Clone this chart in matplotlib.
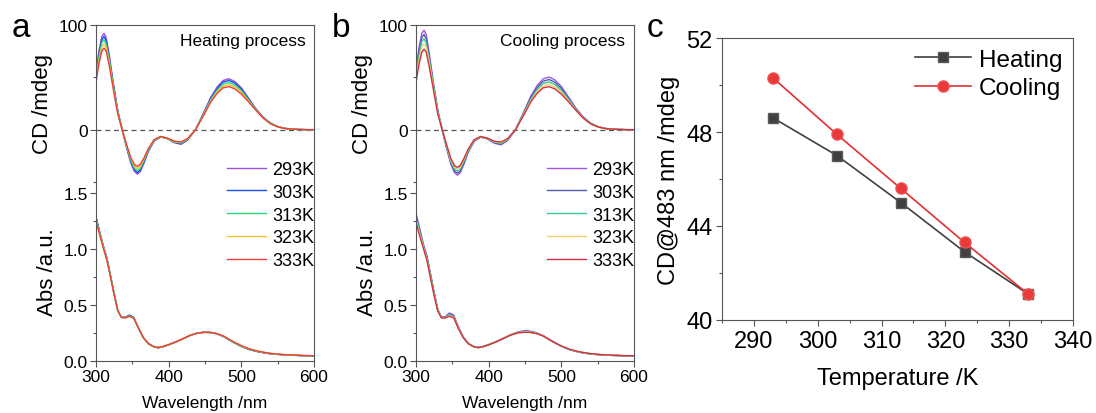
import matplotlib
matplotlib.use('Agg')
import matplotlib.pyplot as plt
from matplotlib.ticker import MultipleLocator

plt.rcParams['font.family'] = ['Liberation Sans', 'DejaVu Sans']

# ---- data ----
temps = ['293K', '303K', '313K', '323K', '333K']

wl_cd = [300, 304, 308, 311, 314, 318, 324, 330, 336, 342, 348, 353, 357, 361, 366, 372,
         380, 389, 398, 408, 417, 426, 437, 448, 458, 467, 475, 483, 491, 500, 510, 520,
         530, 540, 550, 560, 575, 590, 600]

# heating process CD (mdeg)
cd_heat_293 = [55, 75, 89, 92, 88, 72, 44, 18, 0, -17, -32, -40, -42.5, -40, -32, -21,
               -11, -7, -8.5, -12.5, -14, -10, 0, 16, 31, 41, 47, 48.6, 46, 40, 30, 20,
               12, 6.3, 3, 1.2, 0.3, 0, 0]
cd_heat_303 = [52, 72, 86, 89, 85, 70, 42.5, 17.5, 0, -16.3, -31, -38.5, -41, -38.5, -31, -20.3,
               -10.6, -6.9, -8.4, -12.1, -13.4, -9.6, 0, 15.3, 30, 39.6, 45.5, 47.0, 44.5, 38.8, 29.2, 19.6,
               11.8, 6.2, 2.9, 1.2, 0.3, 0, 0]
cd_heat_313 = [50, 69, 83, 86, 82, 67.5, 41, 16.5, 0, -15.5, -29.5, -37, -39, -37, -29.5, -19.5,
               -10.3, -6.8, -8.3, -11.8, -12.8, -9.2, 0, 14.7, 28.8, 38, 43.6, 45.0, 42.6, 37.3, 28.3, 19.2,
               11.6, 6.0, 2.8, 1.1, 0.3, 0, 0]
cd_heat_323 = [47, 66, 79, 82, 78.5, 65, 39.5, 16, 0, -14.8, -28, -35, -37, -35, -28, -18.7,
               -9.9, -6.6, -8.1, -11.4, -12.2, -8.9, 0, 14.1, 27.6, 36.4, 41.7, 42.9, 40.7, 35.6, 27.4, 18.8,
               11.3, 5.9, 2.7, 1.1, 0.3, 0, 0]
cd_heat_333 = [45, 63, 75, 78, 75, 62, 38, 15, 0, -14, -27, -33.5, -35, -33, -27, -18,
               -9.5, -6.5, -8, -11, -11.7, -8.5, 0, 13.5, 26.5, 35, 40, 41.1, 39, 34, 26.5, 18.5,
               11, 5.7, 2.7, 1.1, 0.3, 0, 0]

# cooling process CD (mdeg)
cd_cool_293 = [57, 78, 92, 95, 91, 74, 45, 18.5, 0, -17.5, -33, -41, -43.5, -41, -33, -21.5,
               -11.3, -7.2, -8.8, -13, -14.5, -10.4, 0, 16.5, 32, 42.5, 48.6, 50.3, 47.6, 41.3, 31, 20.5,
               12.3, 6.4, 3.0, 1.2, 0.3, 0, 0]
cd_cool_303 = [54, 74, 88, 91, 87, 71, 43.5, 18, 0, -16.8, -32, -39.5, -41.5, -39.5, -31.5, -20.7,
               -10.9, -7, -8.6, -12.5, -13.8, -9.9, 0, 15.8, 30.5, 40.5, 46.3, 47.9, 45.4, 39.5, 29.8, 20,
               12, 6.2, 2.9, 1.2, 0.3, 0, 0]
cd_cool_313 = [51, 70, 84, 87, 83, 68, 42, 17, 0, -16, -30.5, -37.5, -39.5, -37.5, -30, -19.8,
               -10.4, -6.9, -8.4, -12, -13.1, -9.4, 0, 15, 29, 38.6, 44.1, 45.6, 43.2, 37.6, 28.7, 19.4,
               11.7, 6.0, 2.8, 1.1, 0.3, 0, 0]
cd_cool_323 = [48, 66, 79, 82, 79, 65, 40, 16, 0, -15, -29, -36, -37.5, -35.5, -28.5, -19,
               -10, -6.7, -8.2, -11.5, -12.4, -9, 0, 14.2, 27.7, 36.8, 41.9, 43.3, 41, 35.8, 27.5, 18.9,
               11.3, 5.9, 2.7, 1.1, 0.3, 0, 0]
cd_cool_333 = [45, 62, 74, 77, 74, 61, 38, 15, 0, -14.2, -27.5, -34.5, -36, -34, -27.5, -18.3,
               -9.6, -6.5, -8, -11.1, -11.8, -8.6, 0, 13.5, 26.5, 35, 40, 41.1, 39, 34, 26.5, 18.5,
               11, 5.7, 2.7, 1.1, 0.3, 0, 0]

wl_abs = [300, 305, 310, 315, 320, 325, 330, 335, 340, 346, 352, 358, 365, 372, 380, 386, 393,
          400, 410, 420, 430, 440, 448, 456, 465, 475, 488, 500, 512, 525, 540, 555, 570, 585, 600]

# heating process absorbance
abs_heat_293 = [1.29, 1.16, 1.03, 0.92, 0.76, 0.60, 0.45, 0.39, 0.39, 0.41, 0.39, 0.30, 0.21, 0.155, 0.125, 0.118, 0.128,
                0.145, 0.17, 0.20, 0.23, 0.25, 0.256, 0.255, 0.245, 0.22, 0.17, 0.13, 0.10, 0.08, 0.064, 0.056, 0.051, 0.048, 0.046]
abs_heat_303 = [1.28, 1.15, 1.03, 0.92, 0.76, 0.60, 0.45, 0.39, 0.39, 0.41, 0.39, 0.30, 0.21, 0.155, 0.125, 0.118, 0.128,
                0.145, 0.17, 0.20, 0.23, 0.25, 0.256, 0.255, 0.245, 0.22, 0.17, 0.13, 0.10, 0.08, 0.065, 0.057, 0.052, 0.048, 0.046]
abs_heat_313 = [1.27, 1.15, 1.02, 0.91, 0.76, 0.60, 0.45, 0.39, 0.39, 0.405, 0.385, 0.30, 0.21, 0.155, 0.125, 0.12, 0.13,
                0.145, 0.17, 0.20, 0.23, 0.25, 0.256, 0.255, 0.245, 0.222, 0.172, 0.132, 0.102, 0.082, 0.066, 0.057, 0.052, 0.048, 0.047]
abs_heat_323 = [1.26, 1.14, 1.02, 0.91, 0.75, 0.59, 0.45, 0.39, 0.385, 0.40, 0.385, 0.30, 0.21, 0.155, 0.126, 0.12, 0.13,
                0.146, 0.17, 0.20, 0.23, 0.25, 0.256, 0.256, 0.246, 0.223, 0.174, 0.134, 0.104, 0.083, 0.067, 0.058, 0.053, 0.049, 0.047]
abs_heat_333 = [1.25, 1.13, 1.01, 0.90, 0.75, 0.59, 0.45, 0.39, 0.385, 0.40, 0.38, 0.30, 0.21, 0.156, 0.127, 0.122, 0.132,
                0.147, 0.172, 0.20, 0.23, 0.25, 0.257, 0.257, 0.248, 0.225, 0.177, 0.137, 0.106, 0.085, 0.068, 0.059, 0.053, 0.049, 0.047]

# cooling process absorbance
abs_cool_293 = [1.32, 1.19, 1.05, 0.94, 0.78, 0.61, 0.46, 0.39, 0.395, 0.43, 0.41, 0.31, 0.215, 0.157, 0.127, 0.12, 0.13,
                0.146, 0.172, 0.203, 0.235, 0.258, 0.27, 0.268, 0.254, 0.227, 0.174, 0.132, 0.10, 0.078, 0.062, 0.054, 0.05, 0.047, 0.045]
abs_cool_303 = [1.30, 1.17, 1.04, 0.93, 0.77, 0.61, 0.46, 0.39, 0.39, 0.42, 0.40, 0.305, 0.213, 0.156, 0.126, 0.12, 0.13,
                0.146, 0.171, 0.202, 0.233, 0.256, 0.265, 0.264, 0.252, 0.226, 0.174, 0.132, 0.10, 0.079, 0.063, 0.055, 0.05, 0.047, 0.046]
abs_cool_313 = [1.28, 1.16, 1.03, 0.92, 0.76, 0.60, 0.455, 0.39, 0.39, 0.415, 0.395, 0.30, 0.211, 0.156, 0.126, 0.12, 0.13,
                0.145, 0.17, 0.201, 0.232, 0.254, 0.262, 0.261, 0.25, 0.225, 0.174, 0.133, 0.101, 0.08, 0.064, 0.056, 0.051, 0.048, 0.046]
abs_cool_323 = [1.26, 1.14, 1.02, 0.91, 0.75, 0.59, 0.45, 0.385, 0.385, 0.405, 0.39, 0.30, 0.21, 0.155, 0.126, 0.12, 0.13,
                0.145, 0.17, 0.20, 0.231, 0.253, 0.26, 0.259, 0.249, 0.224, 0.174, 0.133, 0.102, 0.081, 0.065, 0.056, 0.051, 0.048, 0.046]
abs_cool_333 = [1.24, 1.12, 1.01, 0.90, 0.74, 0.58, 0.445, 0.385, 0.385, 0.40, 0.385, 0.295, 0.208, 0.155, 0.126, 0.12, 0.13,
                0.145, 0.17, 0.20, 0.23, 0.251, 0.256, 0.256, 0.247, 0.223, 0.174, 0.134, 0.103, 0.082, 0.066, 0.057, 0.052, 0.048, 0.047]

# CD at 483 nm vs temperature
temp_k = [293, 303, 313, 323, 333]
cd483_heating = [48.6, 47.0, 45.0, 42.9, 41.1]
cd483_cooling = [50.3, 47.9, 45.6, 43.3, 41.1]

colors_heat = ['#9b4fe0', '#1a4fe6', '#28d87a', '#f2c230', '#e8403a']
colors_cool = ['#a055e8', '#4a5caa', '#3cc894', '#f0d070', '#d0303c']

SPINE = '#555555'


def style_axis(ax):
    for s in ax.spines.values():
        s.set_color(SPINE)
        s.set_linewidth(0.8)
    ax.tick_params(which='both', direction='out', color=SPINE, width=0.8)
    ax.tick_params(which='major', length=4)
    ax.tick_params(which='minor', length=2.5)


def spectra_panel(fig, left, cd_list, abs_list, colors, title, letter):
    W = 1096.0
    H = 414.0
    width = 218 / W
    ax_cd = fig.add_axes([left, 1 - 183 / H, width, 157 / H])
    ax_ab = fig.add_axes([left, 1 - 362 / H, width, 179 / H])

    ax_cd.axhline(0, color='#555555', lw=0.9, ls=(0, (4, 3)), zorder=1)
    for cd, c in zip(cd_list, colors):
        ax_cd.plot(wl_cd, cd, color=c, lw=1.0)
    for ab, c, t in zip(abs_list, colors, temps):
        ax_ab.plot(wl_abs, ab, color=c, lw=1.0, label=t)

    for ax in (ax_cd, ax_ab):
        style_axis(ax)
        ax.set_xlim(300, 600)
        ax.xaxis.set_major_locator(MultipleLocator(100))
        ax.xaxis.set_minor_locator(MultipleLocator(50))

    ax_cd.set_ylim(-50, 100)
    ax_cd.yaxis.set_major_locator(MultipleLocator(100))
    ax_cd.yaxis.set_minor_locator(MultipleLocator(50))
    ax_cd.spines['bottom'].set_visible(False)
    ax_cd.tick_params(axis='x', which='both', bottom=False, labelbottom=False)
    ax_cd.tick_params(axis='y', labelsize=12.5, pad=2)
    ax_cd.set_ylabel('CD /mdeg', fontsize=16, labelpad=4)

    ax_ab.set_ylim(0, 1.6)
    ax_ab.yaxis.set_major_locator(MultipleLocator(0.5))
    ax_ab.yaxis.set_minor_locator(MultipleLocator(0.25))
    ax_ab.spines['top'].set_visible(False)
    ax_ab.tick_params(labelsize=12.5, pad=2)
    ax_ab.set_xlabel('Wavelength /nm', fontsize=12.5, labelpad=8)
    ax_ab.set_ylabel('Abs /a.u.', fontsize=16, labelpad=4)

    ax_cd.text(0.96, 0.9, title, transform=ax_cd.transAxes, ha='right', va='center', fontsize=12.5)

    fig.legend(handles=ax_ab.get_lines(), labels=temps, loc='upper right',
               bbox_to_anchor=(left + width, 1 - 162 / H), frameon=False, fontsize=13,
               handlelength=2.2, handletextpad=0.3, labelspacing=0.32, borderpad=0,
               borderaxespad=0)

    fig.text(left - 84 / W, 1 - 37 / H, letter, fontsize=24, va='baseline')


fig = plt.figure(figsize=(10.96, 4.14), dpi=100)

spectra_panel(fig, 96 / 1096, [cd_heat_293, cd_heat_303, cd_heat_313, cd_heat_323, cd_heat_333],
              [abs_heat_293, abs_heat_303, abs_heat_313, abs_heat_323, abs_heat_333],
              colors_heat, 'Heating process', 'a')
spectra_panel(fig, 416 / 1096, [cd_cool_293, cd_cool_303, cd_cool_313, cd_cool_323, cd_cool_333],
              [abs_cool_293, abs_cool_303, abs_cool_313, abs_cool_323, abs_cool_333],
              colors_cool, 'Cooling process', 'b')

# panel c
ax = fig.add_axes([722 / 1096, 1 - 321 / 414, 351 / 1096, 282 / 414])
style_axis(ax)
ax.plot(temp_k, cd483_heating, color='#404040', lw=1.2, marker='s', ms=7,
        mfc='#404040', mec='#5a5a5a', label='Heating')
ax.plot(temp_k, cd483_cooling, color='#e03030', lw=1.2, marker='o', ms=8,
        mfc='#e83a3a', mec='#f05050', label='Cooling')
ax.set_xlim(285, 340)
ax.set_ylim(40, 52)
ax.xaxis.set_major_locator(MultipleLocator(10))
ax.xaxis.set_minor_locator(MultipleLocator(5))
ax.yaxis.set_major_locator(MultipleLocator(4))
ax.yaxis.set_minor_locator(MultipleLocator(2))
ax.tick_params(labelsize=17, pad=3)
ax.set_xlabel('Temperature /K', fontsize=17, labelpad=11)
ax.set_ylabel('CD@483 nm /mdeg', fontsize=17, labelpad=4)
ax.legend(loc='upper right', frameon=False, fontsize=17.5, handlelength=2.3,
          handletextpad=0.3, labelspacing=0.25, borderpad=0.25, borderaxespad=0.2)
fig.text(647 / 1096, 1 - 37 / 414, 'c', fontsize=24, va='baseline')

fig.savefig('out.png', dpi=100)
